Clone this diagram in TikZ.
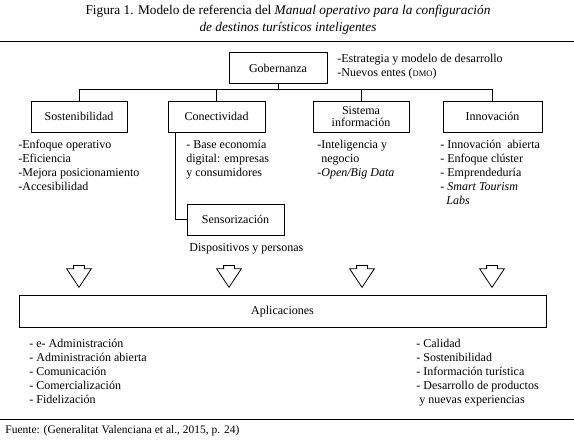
\documentclass[tikz,border=0pt]{standalone}
\usepackage{fontspec}
\setmainfont{Liberation Serif}
\usetikzlibrary{shapes.arrows}
\tikzset{
  mbox/.style    ={draw,align=center,inner sep=2pt,minimum height=31pt},
  lst/.style     ={align=left,anchor=north west,inner sep=0pt},
  downarr/.style ={draw,single arrow,shape border rotate=270,inner sep=5pt,
                   single arrow head extend=7pt,single arrow tip angle=67,
                   minimum height=22pt,anchor=tail},
  rule/.style    ={line width=0.9pt},
}

\begin{document}
\begin{tikzpicture}[x=1pt,y=-1pt,font=\fontsize{12}{14}\selectfont,line width=0.8pt]
\useasboundingbox (0,0) rectangle (574,444);

% title and rules
\node[align=center,font=\fontsize{13.3}{17}\selectfont] (title) at (288,19.5)
   {Figura 1. Modelo de referencia del \textit{Manual operativo para la configuración}\\
    \textit{de destinos turísticos inteligentes}};
\draw[rule] (0,41) -- (574,41);
\draw[rule] (0,419) -- (574,419);

% 1. gobernanza
\node[mbox,minimum width=98pt] (gob) at (278,68) {Gobernanza};
\node[lst] (gobtxt) at (337,53.6)
   {-Estrategia y modelo de desarrollo\\
    -Nuevos entes ({\fontsize{8.5}{10}\selectfont DMO})};

% 2. pillars
\node[mbox,minimum width=96pt] (sost)   at (79,116.5)  {Sostenibilidad};
\node[mbox,minimum width=97pt] (conect) at (216.5,116.5) {Conectividad};
\node[mbox,minimum width=96pt] (sist)   at (361,116.5) {Sistema\\[-2pt]información};
\node[mbox,minimum width=99pt] (inno)   at (492.5,116.5) {Innovación};

\coordinate (bus) at (0,89);
\draw (gob.south) -- (gob.south |- bus);
\draw (sost.north |- bus) -- (inno.north |- bus);
\foreach \n in {sost,conect,sist,inno}{\draw (\n.north |- bus) -- (\n.north);}

\node[lst] (sostlst) at (18,139.6)
   {-Enfoque operativo\\ -Eficiencia\\ -Mejora posicionamiento\\ -Accesibilidad};
\node[lst] (conlst) at (186,139.6)
   {- Base economía\\ digital: empresas\\ y consumidores};
\node[lst] (sislst) at (317,139.6)
   {-Inteligencia y\\ \hspace{4pt}negocio\\ -\textit{Open/Big Data}};
\node[lst] (innlst) at (440,139.6)
   {- Innovación~ abierta\\ - Enfoque clúster\\ - Emprendeduría\\
    - \textit{Smart Tourism}\\ \hspace{6pt}\textit{Labs}};

% 3. sensorizacion
\node[mbox,minimum width=97pt] (sensor) at (235.5,219.5) {Sensorización};
\coordinate (cs) at ([xshift=8pt]conect.south west);
\draw (cs) |- (sensor.west);
\node[lst] (senslst) at (189,243.6) {Dispositivos y personas};

% 4. arrows and aplicaciones
\node[downarr] (a1) at (79,265) {};
\node[downarr] (a2) at (229,265) {};
\node[downarr] (a3) at (362,265) {};
\node[downarr] (a4) at (492,265) {};

\node[mbox,minimum width=527pt,minimum height=32pt] (apli) at (282.5,311.5) {Aplicaciones};
\node[lst] (apleft) at (29,338.6)
   {- e- Administración\\ - Administración abierta\\ - Comunicación\\
    - Comercialización\\ - Fidelización};
\node[lst] (apright) at (416,338.6)
   {- Calidad\\ - Sostenibilidad\\ - Información turística\\
    - Desarrollo de productos\\ \hspace{3pt}y nuevas experiencias};

% source
\node[lst,font=\fontsize{11.5}{13}\selectfont] (src) at (5,425)
   {Fuente: (Generalitat Valenciana et al., 2015, p. 24)};

\end{tikzpicture}
\end{document}
